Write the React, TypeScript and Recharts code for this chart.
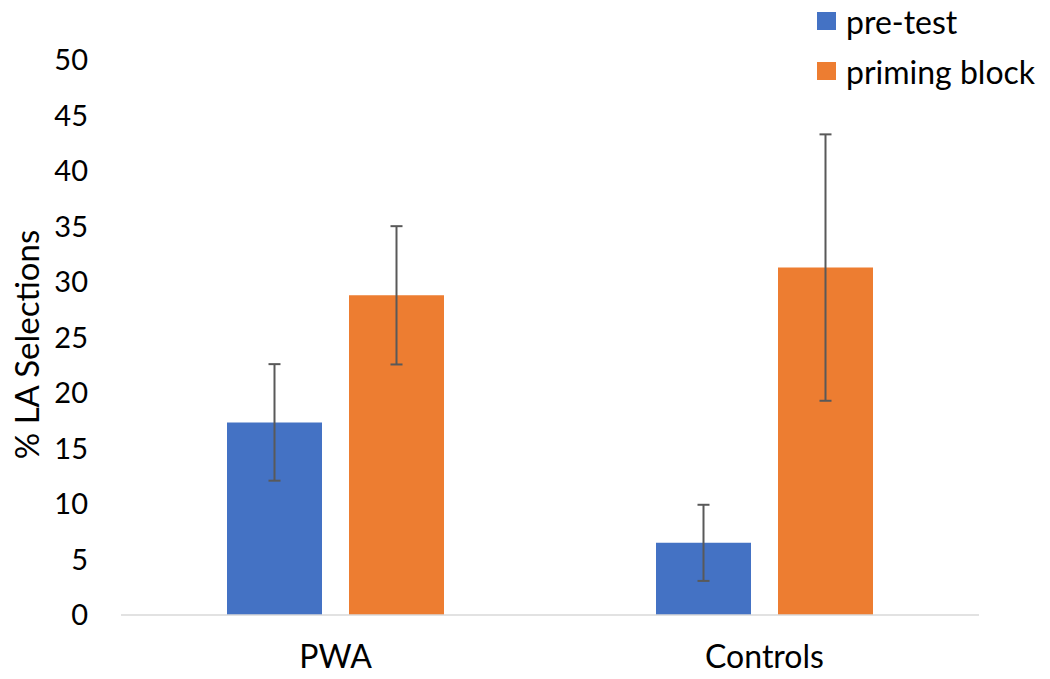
import React from "react";
import { Bar, BarChart, XAxis, YAxis, ErrorBar } from "recharts";

const groups = ["PWA", "Controls"];
const preTest = [17.35, 6.5];
const preTestErr = [5.25, 3.43];
const primingBlock = [28.8, 31.3];
const primingBlockErr = [6.23, 12.0];
const yTicks = [0, 5, 10, 15, 20, 25, 30, 35, 40, 45, 50];

const BLUE = "#4472C4";
const ORANGE = "#ED7D31";
const FONT = "Lato, 'Open Sans', sans-serif";

const data = groups.map((g, i) => ({
  name: g,
  pre: preTest[i],
  preErr: preTestErr[i],
  priming: primingBlock[i],
  primingErr: primingBlockErr[i],
}));

const legendItems = [
  { label: "pre-test", color: BLUE },
  { label: "priming block", color: ORANGE },
];

function YLabel(props: any) {
  const vb = props.viewBox || { x: 0, y: 60, width: 121, height: 555 };
  const cx = 26;
  const cy = vb.y + vb.height / 2 + 7;
  return (
    <text
      x={cx}
      y={cy}
      transform={`rotate(-90 ${cx} ${cy})`}
      textAnchor="middle"
      dominantBaseline="central"
      fontSize={33}
      fontFamily={FONT}
      fill="#000"
    >
      % LA Selections
    </text>
  );
}

export default function App() {
  return (
    <div style={{ position: "absolute", left: 0, top: 0, width: 1050, height: 679, background: "#fff" }}>
      <BarChart
        width={1050}
        height={679}
        data={data}
        margin={{ top: 60, right: 71, bottom: 0, left: 0 }}
        barSize={95}
        barGap={27}
      >
        <XAxis
          dataKey="name"
          height={64}
          tickLine={false}
          tickSize={0}
          tickMargin={30}
          axisLine={{ stroke: "#d9d9d9", strokeWidth: 1.5 }}
          tick={{ fontSize: 32, fontFamily: FONT, fill: "#000" }}
        />
        <YAxis
          width={121}
          domain={[0, 50]}
          ticks={yTicks}
          interval={0}
          axisLine={false}
          tickLine={false}
          tickSize={0}
          tickMargin={33}
          tick={{ fontSize: 29, fontFamily: FONT, fill: "#000" }}
          label={<YLabel />}
        />
        <Bar dataKey="pre" fill={BLUE} isAnimationActive={false}>
          <ErrorBar dataKey="preErr" width={6} stroke="#595959" strokeWidth={2} />
        </Bar>
        <Bar dataKey="priming" fill={ORANGE} isAnimationActive={false}>
          <ErrorBar dataKey="primingErr" width={6} stroke="#595959" strokeWidth={2} />
        </Bar>
      </BarChart>
      {legendItems.map((item, i) => (
        <div
          key={item.label}
          style={{
            position: "absolute",
            left: 817,
            top: 2 + i * 50,
            height: 38,
            display: "flex",
            alignItems: "center",
            fontFamily: FONT,
            fontSize: 32,
            color: "#000",
            whiteSpace: "nowrap",
          }}
        >
          <span style={{ display: "inline-block", width: 19, height: 18, background: item.color, marginRight: 10 }} />
          {item.label}
        </div>
      ))}
    </div>
  );
}
